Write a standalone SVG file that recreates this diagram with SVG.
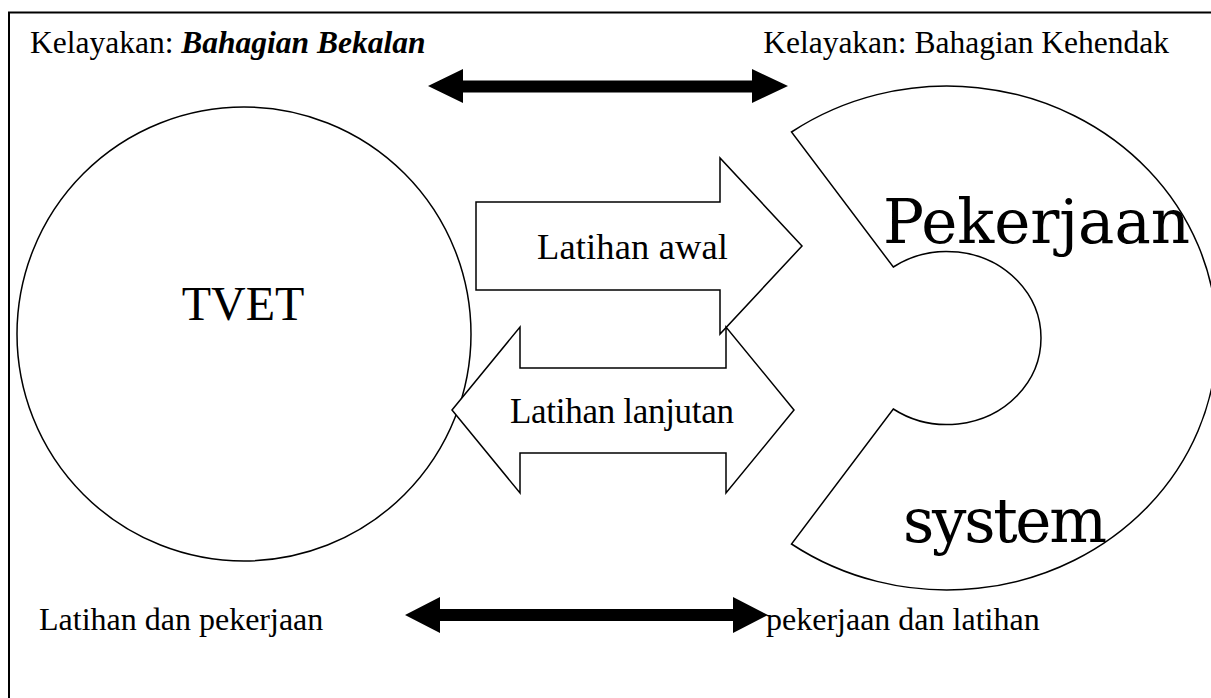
<svg xmlns="http://www.w3.org/2000/svg" width="1211" height="698" viewBox="0 0 1211 698">
<style>
.t{font-family:"Liberation Serif","Times New Roman",serif;fill:#000}
.d{font-family:"DejaVu Serif",serif;fill:#000}
.o{fill:#fff;stroke:#000;stroke-width:1.5;stroke-linejoin:miter}
.b{fill:#000;stroke:none}
</style>
<rect x="0" y="0" width="1211" height="698" fill="#fff"/>
<rect id="frame" x="9" y="12.5" width="1260" height="760" fill="none" stroke="#000" stroke-width="2"/>
<g id="header-left"><text class="t" x="30" y="53" font-size="31.5">Kelayakan: <tspan font-weight="bold" font-style="italic">Bahagian Bekalan</tspan></text></g>
<g id="header-right"><text class="t" x="1169" y="53" font-size="31.5" text-anchor="end">Kelayakan: Bahagian Kehendak</text></g>
<g id="tvet">
<circle class="o" cx="244" cy="334" r="227"/>
<text class="t" x="243" y="320" font-size="48" text-anchor="middle">TVET</text>
</g>
<g id="pekerjaan-system">
<path class="o" d="M 791.5 132 A 270 252 0 1 1 791.5 544 L 893.3 409 A 94 86.5 0 1 0 893.3 267 Z"/>
<text class="d" x="883" y="243" font-size="61" textLength="307">Pekerjaan</text>
<text class="d" x="903" y="542" font-size="61" textLength="204">system</text>
</g>
<g id="connectors">
<polygon class="o" points="476,202 720,202 720,158 802,246 720,334 720,290 476,290"/>
<polygon class="o" points="452,410 520,327 520,368 726,368 726,327 794,410 726,493 726,453 520,453 520,493"/>
<polygon class="b" points="428,86 463,69 463,80.5 752,80.5 752,69 788,86 752,103 752,92.5 463,92.5 463,103"/>
<polygon class="b" points="405,615 440,597 440,609 733,609 733,597 768,615 733,633 733,621 440,621 440,633"/>
</g>
<g id="labels">
<text class="t" x="537" y="259" font-size="36.5" textLength="191">Latihan awal</text>
<text class="t" x="510" y="423" font-size="35" textLength="224">Latihan lanjutan</text>
<text class="t" x="39" y="630" font-size="32">Latihan dan pekerjaan</text>
<text class="t" x="766" y="630" font-size="32">pekerjaan dan latihan</text>
</g>
</svg>
